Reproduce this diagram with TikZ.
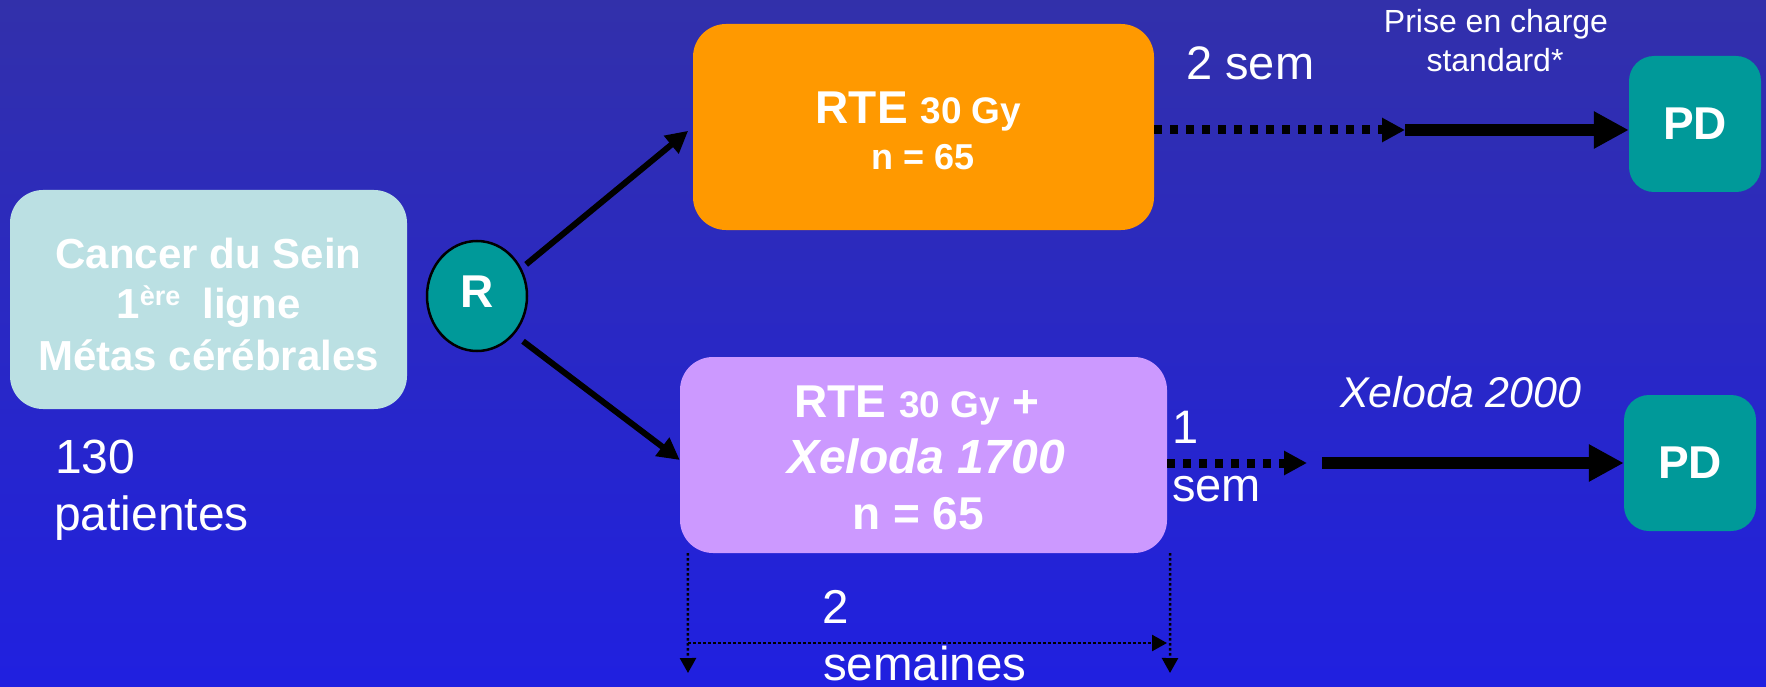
\documentclass[tikz,border=0pt]{standalone}
\usepackage{fontspec}
\setmainfont{Liberation Sans}
\usetikzlibrary{arrows.meta,shapes.geometric}
\definecolor{bgtop}{RGB}{50,48,170}
\definecolor{bgbot}{RGB}{32,32,224}
\definecolor{srcfill}{RGB}{187,224,227}
\definecolor{orangefill}{RGB}{255,153,0}
\definecolor{purplefill}{RGB}{204,153,255}
\definecolor{tealfill}{RGB}{0,153,153}
\newcommand{\fsz}[1]{\fontsize{#1}{#1}\selectfont}
\begin{document}
\begin{tikzpicture}[x=1pt,y=-1pt,
  box/.style={rectangle, rounded corners=33pt, draw=none, inner sep=0pt},
  pdbox/.style={rectangle, rounded corners=25pt, fill=tealfill, minimum width=132pt, minimum height=136pt, inner sep=0pt, text=white, font=\bfseries\fsz{46}},
  txt/.style={inner sep=0pt, text=white, anchor=base},
  thinarrow/.style={line width=6pt, -{Triangle[length=22pt,width=22pt]}},
  dotarrow/.style={line width=9pt, dash pattern=on 8pt off 8pt, -{Triangle[length=23pt,width=23pt]}},
  bigarrow/.style={line width=12pt, -{Triangle[length=35pt,width=35pt]}},
  bracket/.style={line width=2.5pt, dash pattern=on 2.5pt off 2.5pt, -{Triangle[length=15pt,width=16pt]}}
]
\useasboundingbox (0,0) rectangle (1766,687);
\fill[top color=bgtop, bottom color=bgbot] (0,0) rectangle (1766,687);

% source box
\node[box, fill=srcfill, minimum width=397pt, minimum height=219pt] (src) at (208.5,299.5) {};
\node[txt, font=\bfseries\fsz{42}] (srcA) at (208.5,268) {Cancer du Sein};
\node[txt, font=\bfseries\fsz{42}] (srcB) at (208.5,318) {1\raisebox{13pt}{\fsz{27}ère}\hspace{22pt}ligne};
\node[txt, font=\bfseries\fsz{42}] (srcC) at (208.5,370) {Métas cérébrales};
\node[txt, anchor=base west, font=\fsz{48}] (n130) at (55,473) {130};
\node[txt, anchor=base west, font=\fsz{48}] (pat) at (54,530) {patientes};

% randomisation
\node[ellipse, draw=black, line width=2.5pt, fill=tealfill, minimum width=100pt, minimum height=110pt, inner sep=0pt, text=white, font=\bfseries\fsz{46}, text height=33pt, text depth=11pt] (R) at (477,296) {R};

% arms
\node[box, fill=orangefill, minimum width=461pt, minimum height=206pt] (arm1) at (923.5,127) {};
\node[txt, font=\bfseries\fsz{46}] (arm1a) at (918.5,124) {RTE {\fsz{37}30 Gy}};
\node[txt, font=\bfseries\fsz{36}] (arm1b) at (923.5,170) {n = 65};

\node[box, fill=purplefill, minimum width=487pt, minimum height=196pt] (arm2) at (923.5,455) {};
\node[txt, font=\bfseries\fsz{46}] (arm2a) at (917,417) {RTE {\fsz{37}30 Gy} +};
\node[txt, font=\bfseries\itshape\fsz{48}] (arm2b) at (926,473) {Xeloda 1700};
\node[txt, font=\bfseries\fsz{46}] (arm2c) at (918,529) {n = 65};

% outcomes
\node[pdbox] (pd1) at (1695,124) {PD};
\node[pdbox] (pd2) at (1690,463) {PD};

% connectors
\draw[thinarrow, shorten <=6pt, shorten >=6pt] (R.32) -- (arm1.west);
\draw[thinarrow, shorten <=11pt] (R.-46) -- ([yshift=-5pt]arm2.west);

\coordinate (m1) at (1405,130);
\draw[dotarrow] ([yshift=-3pt]arm1.east) -- (m1);
\draw[bigarrow] (m1) -- ([yshift=-6pt]pd1.west);

\coordinate (m2) at (1307,463);
\coordinate (m3) at (1322,463);
\draw[dotarrow] ([yshift=-8pt]arm2.east) -- (m2);
\draw[bigarrow] (m3) -- (pd2.west);

% duration bracket
\coordinate (bl) at (688,673);
\coordinate (br) at (1170,673);
\coordinate (hl) at (688,643);
\coordinate (hr) at (1167,643);
\draw[bracket] ([xshift=8pt]arm2.south west) -- (bl);
\draw[bracket] ([xshift=3pt]arm2.south east) -- (br);
\draw[bracket] (hl) -- (hr);

% labels
\node[txt, anchor=base west, font=\fsz{47}] (twosem) at (1186,80) {2 sem};
\node[txt, font=\fsz{32}] (std1) at (1496,33) {Prise en charge};
\node[txt, anchor=base, font=\fsz{32}] (std2) at (1495,72) {standard*};
\node[txt, anchor=base west, font=\itshape\fsz{43}] (xel) at (1340,407) {Xeloda 2000};
\node[txt, anchor=base west, font=\fsz{47}] (one) at (1172,443) {1};
\node[txt, anchor=base west, font=\fsz{47}] (semb) at (1172,501) {sem};
\node[txt, anchor=base west, font=\fsz{47.5}] (two) at (822,623) {2};
\node[txt, anchor=base west, font=\fsz{47.5}] (semaines) at (823,680) {semaines};
\end{tikzpicture}
\end{document}
